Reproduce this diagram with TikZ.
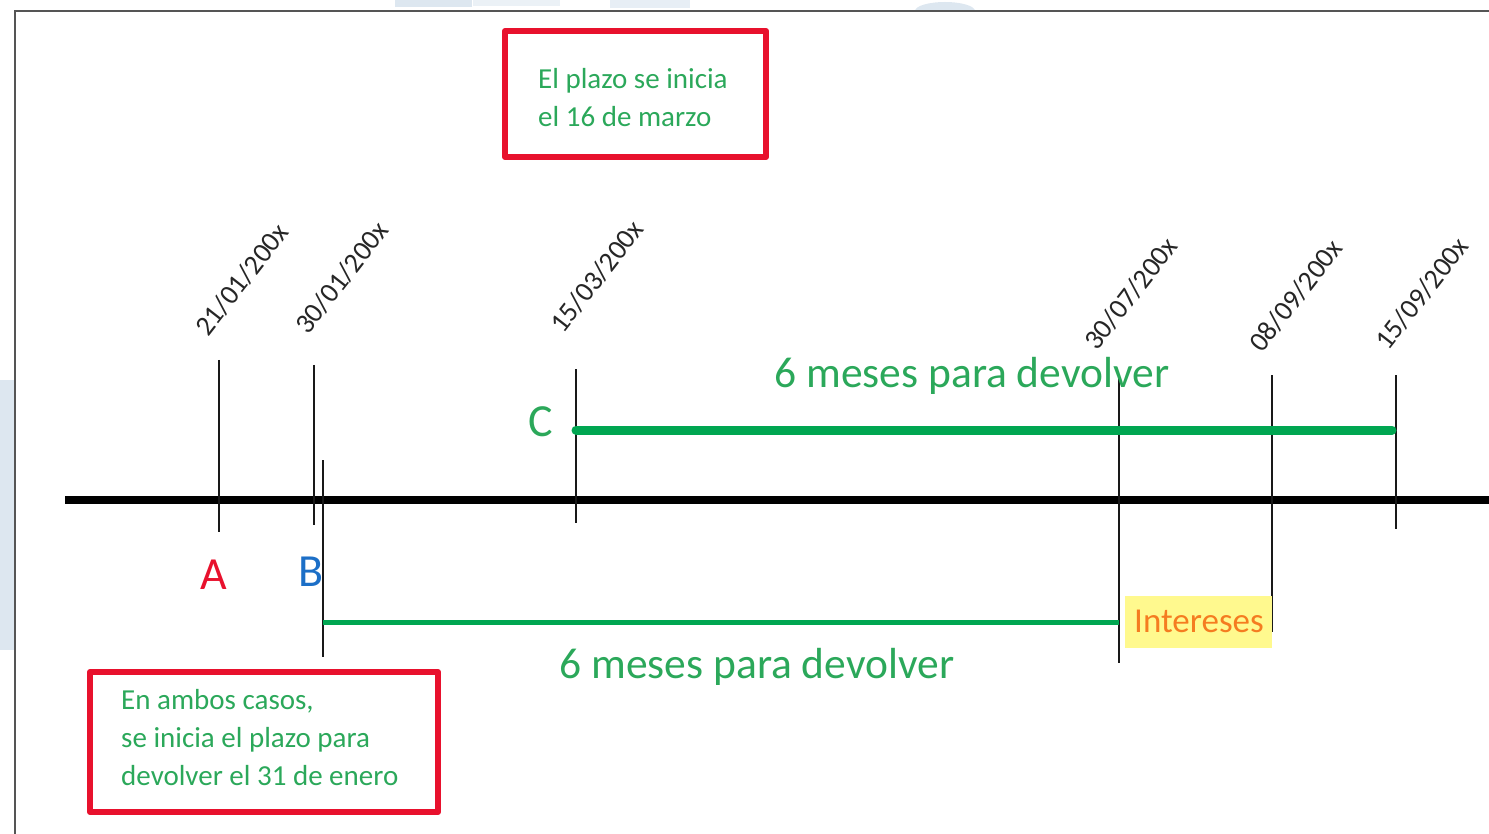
\documentclass[tikz,border=0pt]{standalone}
\usepackage{fontspec}
\setmainfont{Carlito}
\definecolor{boxred}{HTML}{E8112D}
\definecolor{txtgreen}{HTML}{2BA85A}
\definecolor{lngreen}{HTML}{00A651}
\definecolor{bblue}{HTML}{1C6FC7}
\definecolor{iorange}{HTML}{F57C20}
\definecolor{iyellow}{HTML}{FFF98E}
\definecolor{wmark}{HTML}{DDE7F0}
\definecolor{framegray}{HTML}{555555}
\begin{document}
\begin{tikzpicture}[x=1pt,y=-1pt,
  tickline/.style={line width=1.6pt, black!90},
  datelbl/.style={rotate=52, anchor=base west, inner sep=0pt, text=black!85,
    font=\fontsize{28}{30}\selectfont},
  redbox/.style={draw=boxred, line width=6pt, line cap=round, line join=round},
  boxtxt/.style={text=txtgreen, align=left, anchor=north west, inner sep=0pt,
    font=\fontsize{29}{38}\selectfont},
  meses/.style={text=txtgreen, inner sep=0pt, font=\fontsize{43.5}{45}\selectfont},
  letter/.style={inner sep=0pt, font=\fontsize{46}{48}\selectfont}]
\useasboundingbox (0,0) rectangle (1489,834);
% faint watermark
\fill[wmark] (395,0) rectangle (472,7);
\fill[wmark!60] (473,0) rectangle (560,6);
\fill[wmark!70] (610,0) rectangle (690,8);
\fill[wmark] (915,11) arc[start angle=180, end angle=360, x radius=30, y radius=9] -- cycle;
\fill[wmark] (0,380) -- (15,380) -- (15,650) -- (0,650) -- cycle;
% frame
\draw[framegray, line width=1.5pt] (15,834) -- (15,11) -- (1489,11);
% axis
\coordinate (axL) at (65,500);
\coordinate (axR) at (1489,500);
\draw[line width=8pt] (axL) -- (axR);
% ticks
\coordinate (t1a) at (219,360); \coordinate (t1b) at (219,532);
\coordinate (t2a) at (314,365); \coordinate (t2b) at (314,525);
\coordinate (t3a) at (323,460); \coordinate (t3b) at (323,657);
\coordinate (t4a) at (576,369); \coordinate (t4b) at (576,523);
\coordinate (t5a) at (1119,378); \coordinate (t5b) at (1119,663);
\coordinate (t6a) at (1272,375); \coordinate (t6b) at (1272,632);
\coordinate (t7a) at (1396,375); \coordinate (t7b) at (1396,529);
\foreach \i in {1,...,7} {\draw[tickline] (t\i a) -- (t\i b);}
% date labels
\node[datelbl] (d1) at (208,338) {21/01/200x};
\node[datelbl] (d2) at (308,336) {30/01/200x};
\node[datelbl] (d3) at (563,335) {15/03/200x};
\node[datelbl] (d4) at (1097,352) {30/07/200x};
\node[datelbl] (d5) at (1262,354) {08/09/200x};
\node[datelbl] (d6) at (1388,352) {15/09/200x};
% green periods
\coordinate (gC1) at (576,430); \coordinate (gC2) at (1392,430);
\draw[lngreen, line width=9pt, line cap=round] (gC1) -- (gC2);
\coordinate (gB1) at (323,622); \coordinate (gB2) at (1119,622);
\draw[lngreen, line width=5pt] (gB1) -- (gB2);
% intereses
\node[fill=iyellow, minimum width=147pt, minimum height=52pt, inner sep=0pt, anchor=north west] (intbox) at (1125,596) {};
\node[text=iorange, inner sep=0pt, font=\fontsize{35}{36}\selectfont] (int) at (1199,621) {Intereses};
% letters
\node[letter, text=txtgreen] (C) at (541,422) {C};
\node[letter, text=boxred] (A) at (214,575) {A};
\node[letter, text=bblue] (B) at (311,572) {B};
% 6 meses
\node[meses] (m1) at (972,376) {6 meses para devolver};
\node[meses] (m2) at (757,667) {6 meses para devolver};
% boxes
\draw[redbox] (505,31) rectangle (766,157);
\node[boxtxt] (bx1) at (538,68) {El plazo se inicia\\el 16 de marzo};
\draw[redbox] (90,672) rectangle (438,812);
\node[boxtxt] (bx2) at (121,689) {En ambos casos,\\se inicia el plazo para\\devolver el 31 de enero};
\end{tikzpicture}
\end{document}
